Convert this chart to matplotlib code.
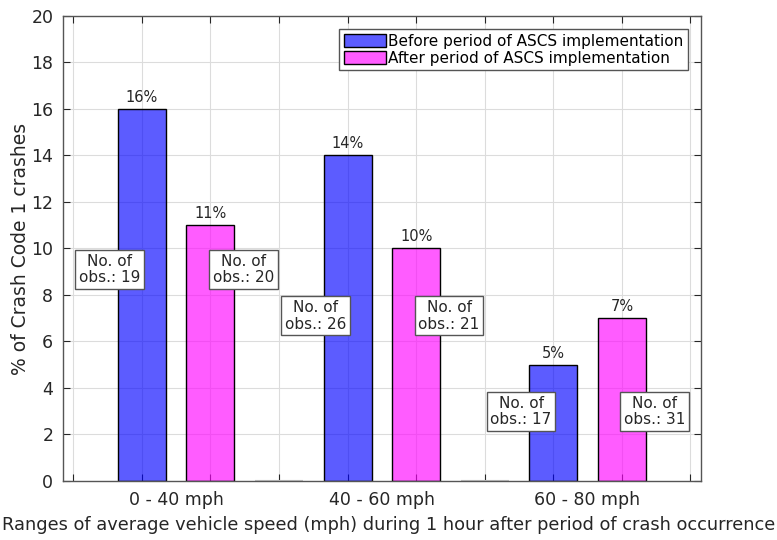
import numpy as np
import matplotlib
matplotlib.use("Agg")
import matplotlib.pyplot as plt

plt.rcParams['font.family'] = ['DejaVu Sans']

groups = ["0 - 40 mph", "40 - 60 mph", "60 - 80 mph"]
before = [16, 14, 5]
after = [11, 10, 7]
obs_before = [19, 26, 17]
obs_after = [20, 21, 31]
obs_label_y = [9.1, 7.1, 3.0]

series_names = ["Before period of ASCS implementation",
                "After period of ASCS implementation"]

blue = (0.0, 0.0, 1.0, 0.64)
magenta = (1.0, 0.0, 1.0, 0.64)
axcol = "#262626"

fig = plt.figure(figsize=(7.77, 5.40), dpi=100)
ax = fig.add_axes([0.0811, 0.1093, 0.8207, 0.8611])

n = len(groups)
pos_before = np.arange(n) * 3 + 1
pos_after = np.arange(n) * 3 + 2
pos_gap = np.arange(n - 1) * 3 + 3

ax.bar(pos_before, before, width=0.7, color=blue, edgecolor="black", linewidth=1, label=series_names[0], zorder=2)
ax.bar(pos_after, after, width=0.7, color=magenta, edgecolor="black", linewidth=1, label=series_names[1], zorder=2)
# empty separator bars between groups
ax.bar(pos_gap, np.zeros(len(pos_gap)), width=0.7, color="none", edgecolor="#b0b0b0", linewidth=1.5, zorder=3)

for p, v in zip(list(pos_before) + list(pos_after), before + after):
    ax.annotate("%d%%" % v, (p, v), xytext=(0, 3), textcoords="offset points",
                ha="center", va="bottom", fontsize=10.5, color=axcol)

box = dict(boxstyle="square,pad=0.25", facecolor="white", edgecolor="#555555", linewidth=1)
for i in range(n):
    ax.text(pos_before[i] - 0.47, obs_label_y[i], "No. of\nobs.: %d" % obs_before[i],
            ha="center", va="center", multialignment="center", fontsize=11, color=axcol,
            bbox=box, zorder=5, linespacing=1.1)
    ax.text(pos_after[i] + 0.48, obs_label_y[i], "No. of\nobs.: %d" % obs_after[i],
            ha="center", va="center", multialignment="center", fontsize=11, color=axcol,
            bbox=box, zorder=5, linespacing=1.1)

ax.set_xlim(-0.15, 9.15)
ax.set_ylim(0, 20)
ax.set_xticks(np.arange(0, 10))
ax.set_xticklabels([])
ax.set_yticks(np.arange(0, 21, 2))
ax.tick_params(direction="in", top=True, right=True, length=5, width=0.8, colors=axcol, labelsize=12.5)
ax.tick_params(axis="y", pad=7)
ax.grid(True, color="#dcdcdc", linewidth=0.8)
ax.set_axisbelow(True)
for s in ax.spines.values():
    s.set_color("#555555")
    s.set_linewidth(1)

for i, g in enumerate(groups):
    ax.text((pos_before[i] + pos_after[i]) / 2, -0.42, g, ha="center", va="top",
            fontsize=12.5, color=axcol, transform=ax.transData)

ax.set_ylabel("% of Crash Code 1 crashes", fontsize=13.5, color=axcol, labelpad=1)
fig.text(0.5, 0.027, "Ranges of average vehicle speed (mph) during 1 hour after period of crash occurrence",
         ha="center", va="center", fontsize=12.8, color=axcol)

leg = ax.legend(loc="upper right", bbox_to_anchor=(0.98, 0.972), borderaxespad=0,
                fontsize=11, fancybox=False, framealpha=1, edgecolor="#555555",
                handlelength=2.75, handleheight=0.95, handletextpad=0.15, borderpad=0.3,
                labelspacing=0.15)
leg.get_frame().set_linewidth(1)

fig.savefig("out.png", dpi=100)
